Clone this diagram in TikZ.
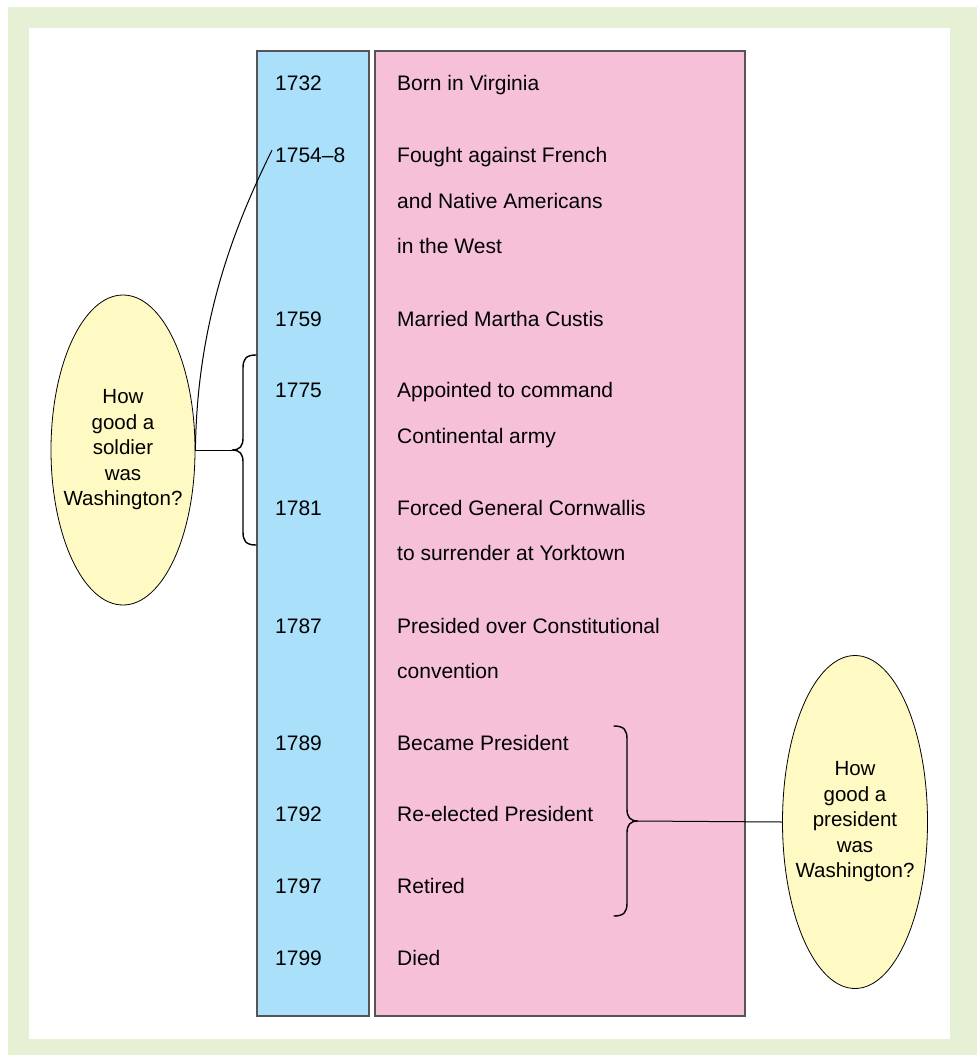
\documentclass[tikz,border=0pt]{standalone}
\usepackage{fontspec}
\setmainfont{Liberation Sans}
\usetikzlibrary{shapes.geometric}
\definecolor{framegreen}{HTML}{E6F0D5}
\definecolor{yearblue}{HTML}{ABE0FA}
\definecolor{eventpink}{HTML}{F6C1D8}
\definecolor{notefill}{HTML}{FFF9C4}
\definecolor{edgegray}{HTML}{555555}
\tikzset{
  column/.style={draw=edgegray, line width=1.4pt},
  yr/.style={anchor=base west, inner sep=0pt, font=\fontsize{21}{21}\selectfont},
  ev/.style={anchor=base west, inner sep=0pt, font=\fontsize{21}{21}\selectfont},
  note/.style={ellipse, draw=black, line width=0.8pt, fill=notefill, inner sep=0pt},
  notetext/.style={align=center, inner sep=0pt, font=\fontsize{20.5}{25.5}\selectfont},
  link/.style={draw=black, line width=1pt},
  bracket/.style={draw=black, line width=1.4pt, line cap=round}
}
\begin{document}
\begin{tikzpicture}[x=1pt,y=-1pt]
\useasboundingbox (0,0) rectangle (977,1055);
% frame
\fill[framegreen] (8,7) rectangle (977,1055);
\fill[white] (29,28) rectangle (950,1039);
% columns
\path[column, fill=yearblue] (257,51) rectangle (369,1016);
\path[column, fill=eventpink] (375,51) rectangle (745,1016);
% years
\node[yr] (y1732) at (275,90) {1732};
\node[yr] (y1754) at (275,162) {1754–8};
\node[yr] (y1759) at (275,326) {1759};
\node[yr] (y1775) at (275,397) {1775};
\node[yr] (y1781) at (275,515) {1781};
\node[yr] (y1787) at (275,633) {1787};
\node[yr] (y1789) at (275,750) {1789};
\node[yr] (y1792) at (275,821) {1792};
\node[yr] (y1797) at (275,893) {1797};
\node[yr] (y1799) at (275,965) {1799};
% events
\node[ev] (e1) at (397,90) {Born in Virginia};
\node[ev] (e2a) at (397,162) {Fought against French};
\node[ev] (e2b) at (397,208) {and Native Americans};
\node[ev] (e2c) at (397,253) {in the West};
\node[ev] (e3) at (397,326) {Married Martha Custis};
\node[ev] (e4a) at (397,397) {Appointed to command};
\node[ev] (e4b) at (397,443) {Continental army};
\node[ev] (e5a) at (397,515) {Forced General Cornwallis};
\node[ev] (e5b) at (397,560) {to surrender at Yorktown};
\node[ev] (e6a) at (397,633) {Presided over Constitutional};
\node[ev] (e6b) at (397,678) {convention};
\node[ev] (e7) at (397,750) {Became President};
\node[ev] (e8) at (397,821) {Re-elected President};
\node[ev] (e9) at (397,893) {Retired};
\node[ev] (e10) at (397,965) {Died};
% question ellipses
\node[note, minimum width=144, minimum height=310] (soldier) at (123,450) {};
\node[notetext] at (soldier.center) {How\\good a\\soldier\\was\\Washington?};
\node[note, minimum width=145, minimum height=333] (president) at (855,822) {};
\node[notetext] at (president.center) {How\\good a\\president\\was\\Washington?};
% left bracket
\coordinate (lb) at (232,450);
\draw[bracket] (256,355) .. controls (246,355) and (243,359) .. (243,368)
  -- (243,438) .. controls (243,446) and (240,450) .. (lb)
  .. controls (240,450) and (243,454) .. (243,462)
  -- (243,532) .. controls (243,541) and (246,545) .. (256,545);
% right bracket
\coordinate (rb) at (638,821);
\draw[bracket] (614,726) .. controls (624,726) and (627,730) .. (627,739)
  -- (627,809) .. controls (627,817) and (630,821) .. (rb)
  .. controls (630,821) and (627,825) .. (627,833)
  -- (627,903) .. controls (627,912) and (624,916) .. (614,916);
% connectors
\draw[link] (soldier.east) -- (lb);
\draw[link] (rb) -- (president.west);
\coordinate (tip) at ([xshift=-3pt,yshift=-3pt]y1754.north west);
\draw[link] (soldier.east) .. controls (197,320) and (235,225) .. (tip);
\end{tikzpicture}
\end{document}
